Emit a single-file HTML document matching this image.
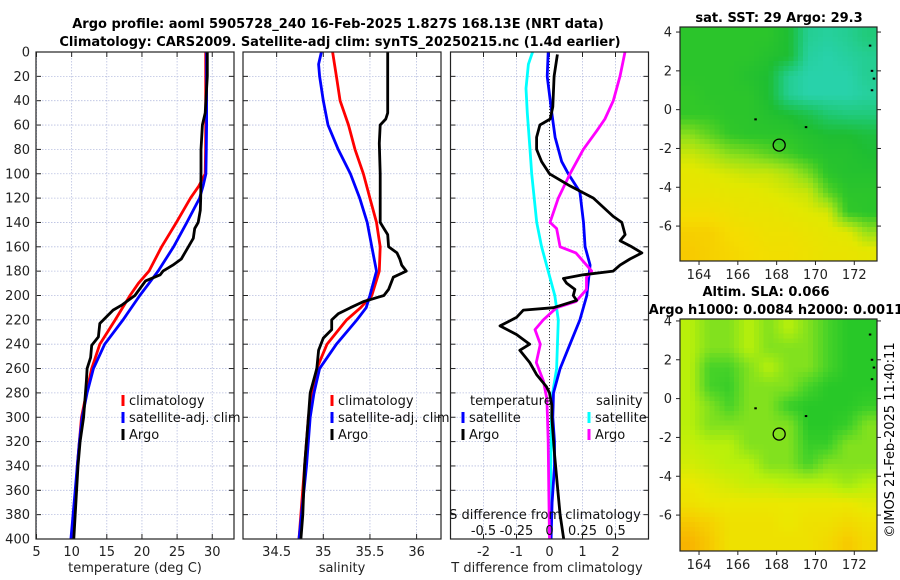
<!DOCTYPE html>
<html><head><meta charset="utf-8">
<style>
html,body{margin:0;padding:0;background:#fff;}
svg{display:block;font-family:"DejaVu Sans","Liberation Sans",sans-serif;}
</style></head>
<body>
<svg id="fig" width="900" height="580" viewBox="0 0 900 580">
<text x="338" y="28" text-anchor="middle" font-size="13" font-weight="bold" fill="#000">Argo profile: aoml 5905728_240 16-Feb-2025 1.827S 168.13E (NRT data)</text>
<text x="340" y="46" text-anchor="middle" font-size="13" font-weight="bold" fill="#000">Climatology: CARS2009. Satellite-adj clim: synTS_20250215.nc (1.4d earlier)</text>
<text x="779" y="22" text-anchor="middle" font-size="13" font-weight="bold">sat. SST: 29 Argo: 29.3</text>
<text x="766" y="296" text-anchor="middle" font-size="13" font-weight="bold">Altim. SLA: 0.066</text>
<text x="776" y="314" text-anchor="middle" font-size="13" font-weight="bold">Argo h1000: 0.0084 h2000: 0.0011</text>
<text transform="translate(894,440) rotate(-90)" text-anchor="middle" font-size="13">©IMOS 21-Feb-2025 11:40:11</text>
<g id="panels"></g>
</svg>
<script>
// ---- Data (depth in m) ----
const depthT = [0,20,50,60,80,100,110,120,140,160,180,190,200,220,240,260,280,300,320,340,360,380,400];
const climT  = [29.07,29.07,29.07,29.07,29.05,29.0,28.1,26.9,24.9,22.8,21.0,19.5,18.3,16.2,14.0,12.85,12.1,11.4,11.1,10.8,10.6,10.3,10.1];
const satT   = [29.2,29.2,29.2,29.2,29.15,29.1,28.7,28.2,26.4,24.5,22.3,21.0,19.7,17.3,14.7,13.1,12.2,11.5,11.1,10.8,10.5,10.2,9.9];
const argoDepthT = [0,20,50,60,80,100,120,130,140,145,153,165,170,175,180,183,188,200,208,212,223,234,241,251,260,270,300,320,340,360,380,400];
const argoT  = [29.3,29.3,29.0,28.6,28.4,28.4,28.35,28.3,28.0,27.5,27.3,26.1,25.6,24.4,23.0,22.6,20.5,19.0,17.1,15.9,14.0,13.8,12.85,12.7,12.2,12.1,11.7,11.2,10.9,10.7,10.5,10.3];

const depthS = [0,10,20,40,60,80,100,120,140,160,180,200,210,220,240,260,280,300,340,400];
const climS  = [35.10,35.12,35.14,35.18,35.27,35.34,35.43,35.50,35.57,35.61,35.60,35.52,35.40,35.25,35.04,34.93,34.88,34.84,34.80,34.74];
const satS   = [34.98,34.95,34.96,35.0,35.05,35.16,35.29,35.39,35.47,35.52,35.57,35.50,35.46,35.36,35.14,34.96,34.90,34.86,34.82,34.74];
const argoDepthS = [0,50,55,60,75,100,140,145,150,160,165,170,175,180,185,195,200,205,210,215,220,228,235,245,260,280,300,340,380,400];
const argoS  = [35.69,35.69,35.67,35.61,35.60,35.61,35.61,35.65,35.69,35.70,35.79,35.82,35.84,35.89,35.75,35.70,35.65,35.43,35.29,35.16,35.09,35.09,35.0,34.95,34.93,34.86,34.84,34.80,34.78,34.76];

const argoDepthTd = [2,20,45,55,60,70,80,90,100,110,120,135,140,150,155,160,165,170,175,180,183,186,190,195,200,204,210,212,218,225,232,240,245,255,265,275,280,290,300,330,360,380,400];
const argoTd = [0.24,0.14,0.1,0.02,-0.29,-0.39,-0.39,-0.24,0,0.62,1.33,1.93,2.19,2.29,2.14,2.49,2.8,2.44,2.14,1.93,1.02,0.42,0.52,0.77,0.72,0.82,0.12,-0.79,-1.0,-1.5,-1.0,-0.6,-0.9,-0.6,-0.39,-0.09,0,0.07,0.07,0.15,0.25,0.32,0.43];
const satDepthTd = [0,20,50,70,90,100,115,140,160,175,200,220,240,260,280,300,320,340,370,400];
const satTd = [-0.04,-0.07,0.07,0.17,0.37,0.57,0.92,1.03,1.08,1.23,1.13,0.92,0.62,0.32,0.12,0.1,0.15,0.15,0.08,0.05];
const satDepthSd = [0,10,30,50,80,100,140,160,180,200,220,260,280,300,340,400];
const satSd = [-0.128,-0.16,-0.178,-0.168,-0.148,-0.135,-0.097,-0.06,-0.01,0.04,0.067,0.054,0.024,0.015,0.01,0.005];
const argoDepthSd = [0,20,40,55,65,80,100,120,140,145,160,165,175,180,185,195,205,210,220,228,240,255,270,285,320,360,400];
const argoSd = [0.572,0.534,0.483,0.42,0.357,0.256,0.155,0.067,0.004,0.054,0.08,0.2,0.28,0.32,0.28,0.28,0.2,0.054,-0.047,-0.11,-0.07,-0.1,-0.047,-0.02,-0.01,-0.005,0.0];

const depthTicks = [0,20,40,60,80,100,120,140,160,180,200,220,240,260,280,300,320,340,360,380,400];
const tempTicks = [5,10,15,20,25,30];
const salTicks = [34.5,35,35.5,36];
const tdTicks = [-2,-1,0,1,2];
const sdTicks = [-0.5,-0.25,0,0.25,0.5];
const sdTickLabels = ["-0.5","-0.25","0","0.25","0.5"];
const lonTicks = [164,166,168,170,172];
const latTicks = [4,2,0,-2,-4,-6];

// map grids (10 cols lon 163..173.2, 12 rows north->south)
const sstGrid = [
[29.1,29.1,29.1,29.1,29.1,29.0,28.6,28.55,28.6,28.7],
[29.1,29.1,29.1,29.1,29.05,29.0,28.55,28.5,28.55,28.6],
[29.1,29.1,29.1,29.05,29.0,28.6,28.5,28.5,28.5,28.6],
[29.15,29.1,29.1,29.1,29.0,28.6,28.5,28.5,28.5,28.55],
[29.15,29.15,29.1,29.1,29.05,29.0,28.9,28.75,28.7,28.7],
[29.45,29.3,29.15,29.1,29.1,29.1,29.05,29.0,29.0,28.95],
[29.7,29.6,29.45,29.4,29.3,29.2,29.1,29.05,29.05,29.0],
[29.85,29.8,29.75,29.7,29.7,29.6,29.4,29.1,29.05,29.05],
[29.9,29.9,29.85,29.85,29.8,29.75,29.7,29.3,29.1,29.1],
[30.0,30.0,29.95,29.9,29.9,29.85,29.8,29.75,29.15,29.1],
[30.15,30.15,30.05,30.0,29.95,29.95,29.9,29.85,29.8,29.5],
[30.2,30.15,30.1,30.05,30.0,30.0,29.95,29.9,29.9,29.85]];
const slaGrid = [
[0.09,0.07,0.07,0.09,0.07,0.09,0.07,0.05,0.04,0.04],
[0.09,0.07,0.07,0.09,0.07,0.07,0.07,0.05,0.04,0.04],
[0.09,0.05,0.05,0.07,0.09,0.07,0.07,0.05,0.04,0.04],
[0.09,0.05,0.045,0.07,0.07,0.07,0.05,0.04,0.04,0.04],
[0.09,0.07,0.05,0.07,0.07,0.045,0.04,0.04,0.04,0.045],
[0.09,0.07,0.07,0.07,0.07,0.07,0.04,0.04,0.045,0.07],
[0.095,0.09,0.09,0.07,0.07,0.07,0.045,0.045,0.07,0.07],
[0.1,0.095,0.09,0.09,0.07,0.07,0.05,0.07,0.07,0.07],
[0.11,0.105,0.1,0.095,0.095,0.09,0.09,0.09,0.08,0.09],
[0.115,0.11,0.11,0.11,0.11,0.11,0.11,0.11,0.11,0.105],
[0.13,0.125,0.115,0.115,0.115,0.11,0.115,0.115,0.12,0.115],
[0.14,0.13,0.115,0.115,0.115,0.115,0.115,0.12,0.13,0.12]];

const NS="http://www.w3.org/2000/svg";
const root=document.getElementById('panels');
function el(tag,attrs,parent){const e=document.createElementNS(NS,tag);for(const k in attrs)e.setAttribute(k,attrs[k]);(parent||root).appendChild(e);return e;}

const TOP=52, BOT=539;
const yD = d => TOP + d*(BOT-TOP)/400;
const xT = t => 36.5 + (t-5)*7.03;
const xS = s => 323.3 + (s-35)*93.3;
const xTd = v => 549.5 + v*33;
const xSd = v => 549.5 + v*132;

function frame(x0,x1,name){
  const g=el('g',{});
  
  
  el('rect',{x:x0,y:TOP,width:x1-x0,height:BOT-TOP,fill:'#fff'},g);
  depthTicks.forEach(d=>{
    const l=el('line',{x1:x0,x2:x1,y1:yD(d),y2:yD(d),stroke:'#b8bfe0','stroke-width':0.8,'stroke-dasharray':'1.5,1.5'},g);
    
    
    el('line',{x1:x0,x2:x0+5,y1:yD(d),y2:yD(d),stroke:'#222'},g);
    el('line',{x1:x1-5,x2:x1,y1:yD(d),y2:yD(d),stroke:'#222'},g);
  });
  return g;
}
function vgrid(g,ticks,fx,labels,name){
  ticks.forEach((t,i)=>{
    const l=el('line',{x1:fx(t),x2:fx(t),y1:TOP,y2:BOT,stroke:'#b8bfe0','stroke-width':0.8,'stroke-dasharray':'1.5,1.5'},g);
    
    
    el('line',{x1:fx(t),x2:fx(t),y1:BOT-5,y2:BOT,stroke:'#222'},g);
    el('line',{x1:fx(t),x2:fx(t),y1:TOP,y2:TOP+5,stroke:'#222'},g);
    const tx=el('text',{x:fx(t),y:556,'text-anchor':'middle','font-size':13,fill:'#222'},g);
    
    
    tx.textContent=labels?labels[i]:String(t);
  });
}
function border(g,x0,x1){el('rect',{x:x0,y:TOP,width:x1-x0,height:BOT-TOP,fill:'none',stroke:'#222','stroke-width':1.2},g);}
function curve(g,ds,vs,fx,color,name){
  const p=el('polyline',{points:ds.map((d,i)=>fx(vs[i]).toFixed(1)+','+yD(d).toFixed(1)).join(' '),fill:'none',stroke:color,'stroke-width':2.8,'stroke-linejoin':'round'},g);
  
  
}
function legItem(g,x,y,color,label,name){
  const it=el('g',{},g);
  
  
  el('rect',{x:x-1.5,y:y-10,width:3,height:11,fill:color},it);
  const t=el('text',{x:x+6,y:y,'font-size':13,fill:'#111'},it);
  t.textContent=label;
}

depthTicks.forEach(d=>{
  const t=el('text',{x:30,y:yD(d)+4.5,'text-anchor':'end','font-size':13,fill:'#222'});
  
  
  t.textContent=String(d);
});

// Panel 1
let g1=frame(36,234,'temperature-panel');
vgrid(g1,tempTicks,xT,null,'temperature-tick-label');
curve(g1,depthT,climT,xT,'#ff0000','temperature-climatology-line');
curve(g1,depthT,satT,xT,'#0000ff','temperature-satellite-line');
curve(g1,argoDepthT,argoT,xT,'#000','temperature-argo-line');
border(g1,36,234);
legItem(g1,123,405,'#f00','climatology','legend-climatology');
legItem(g1,123,422,'#00f','satellite-adj. clim','legend-satellite-adj');
legItem(g1,123,439,'#000','Argo','legend-argo');
let xl1=el('text',{x:135,y:572,'text-anchor':'middle','font-size':13,fill:'#222'},g1);
xl1.textContent='temperature (deg C)';

// Panel 2
let g2=frame(243,441,'salinity-panel');
vgrid(g2,salTicks,xS,null,'salinity-tick-label');
curve(g2,depthS,climS,xS,'#ff0000','salinity-climatology-line');
curve(g2,depthS,satS,xS,'#0000ff','salinity-satellite-line');
curve(g2,argoDepthS,argoS,xS,'#000','salinity-argo-line');
border(g2,243,441);
legItem(g2,332,405,'#f00','climatology','legend-climatology-s');
legItem(g2,332,422,'#00f','satellite-adj. clim','legend-satellite-adj-s');
legItem(g2,332,439,'#000','Argo','legend-argo-s');
let xl2=el('text',{x:342,y:572,'text-anchor':'middle','font-size':13,fill:'#222'},g2);
xl2.textContent='salinity';

// Panel 3
let g3=frame(450.5,648.5,'difference-panel');
vgrid(g3,tdTicks,xTd,null,'tdiff-tick-label');
el('line',{x1:xTd(0),x2:xTd(0),y1:TOP,y2:BOT,stroke:'#333','stroke-width':1,'stroke-dasharray':'1,2'},g3);
curve(g3,satDepthSd,satSd,xSd,'#00ffff','salinity-diff-satellite-line');
curve(g3,satDepthTd,satTd,xTd,'#0000ff','temperature-diff-satellite-line');
curve(g3,argoDepthSd,argoSd,xSd,'#ff00ff','salinity-diff-argo-line');
curve(g3,argoDepthTd,argoTd,xTd,'#000','temperature-diff-argo-line');
border(g3,450.5,648.5);
let lt=el('text',{x:470,y:405,'font-size':13,fill:'#111'},g3); lt.textContent='temperature';
let ls=el('text',{x:596,y:405,'font-size':13,fill:'#111'},g3); ls.textContent='salinity';
legItem(g3,463,422,'#00f','satellite','legend-t-satellite');
legItem(g3,463,439,'#000','Argo','legend-t-argo');
legItem(g3,589,422,'#0ff','satellite','legend-s-satellite');
legItem(g3,589,439,'#f0f','Argo','legend-s-argo');
let st=el('text',{x:545,y:519,'text-anchor':'middle','font-size':13,fill:'#111'},g3); st.textContent='S difference from climatology';
sdTicks.forEach((v,i)=>{
  const t=el('text',{x:xSd(v),y:535,'text-anchor':'middle','font-size':13,fill:'#111'},g3);
  
  
  t.textContent=sdTickLabels[i];
});
let tt=el('text',{x:547,y:572,'text-anchor':'middle','font-size':13,fill:'#222'},g3); tt.textContent='T difference from climatology';

// Maps
const MX0=680, MX1=877, LON0=163.02, LON1=173.17;
const lonX = lon => MX0 + (lon-LON0)*(MX1-MX0)/(LON1-LON0);
function lerp(a,b,t){return a+(b-a)*t;}
function rgb(a){return 'rgb('+a.map(Math.round).join(',')+')';}
function cmap(stops,v){
  if(v<=stops[0][0])return rgb(stops[0][1]);
  for(let i=1;i<stops.length;i++){ if(v<=stops[i][0]){const t=(v-stops[i-1][0])/(stops[i][0]-stops[i-1][0]);const a=stops[i-1][1],b=stops[i][1];return rgb([0,1,2].map(k=>lerp(a[k],b[k],t)));}}
  return rgb(stops[stops.length-1][1]);
}
function sample(grid,fr,fc){
  const rows=grid.length, cols=grid[0].length;
  const r=Math.min(Math.max(fr-0.5,0),rows-1), c=Math.min(Math.max(fc-0.5,0),cols-1);
  const r0=Math.floor(r), c0=Math.floor(c), r1=Math.min(r0+1,rows-1), c1=Math.min(c0+1,cols-1);
  const tr=r-r0, tc=c-c0;
  return lerp(lerp(grid[r0][c0],grid[r0][c1],tc),lerp(grid[r1][c0],grid[r1][c1],tc),tr);
}
const sstStops=[[28.5,[40,210,170]],[28.75,[30,200,110]],[29.0,[30,190,50]],[29.15,[50,200,40]],[29.5,[150,225,25]],[29.8,[225,232,0]],[30.05,[245,220,0]],[30.3,[248,190,0]]];
const slaStops=[[0.04,[40,200,40]],[0.05,[70,210,40]],[0.07,[130,225,30]],[0.09,[185,240,10]],[0.11,[235,232,0]],[0.125,[245,210,0]],[0.14,[248,180,0]]];
function drawMap(grid,stops,y0,y1,latTop,latBot,name){
  const g=el('g',{});
  
  
  const latY = lat => y0 + (latTop-lat)*(y1-y0)/(latTop-latBot);
  const rows=grid.length, cols=grid[0].length;
  const SUB=4;
  const NR=rows*SUB, NC=cols*SUB;
  const cw=(MX1-MX0)/NC, ch=(y1-y0)/NR;
  const cells=el('g',{'shape-rendering':'crispEdges'},g);
  for(let r=0;r<NR;r++)for(let c=0;c<NC;c++){
    const v=sample(grid,(r+0.5)/SUB,(c+0.5)/SUB);
    const rc=el('rect',{x:(MX0+c*cw).toFixed(2),y:(y0+r*ch).toFixed(2),width:(cw+0.6).toFixed(2),height:(ch+0.6).toFixed(2),fill:cmap(stops,v)},cells);
    
    
  }
  el('rect',{x:MX0,y:y0,width:MX1-MX0,height:y1-y0,fill:'none',stroke:'#222','stroke-width':1.2},g);
  lonTicks.forEach(l=>{
    el('line',{x1:lonX(l),x2:lonX(l),y1:y1,y2:y1+4,stroke:'#222'},g);
    const t=el('text',{x:lonX(l),y:y1+18,'text-anchor':'middle','font-size':13,fill:'#222'},g);
    
    
    t.textContent=String(l);
  });
  latTicks.forEach(l=>{
    el('line',{x1:MX0-4,x2:MX0,y1:latY(l),y2:latY(l),stroke:'#222'},g);
    el('line',{x1:MX1,x2:MX1+4,y1:latY(l),y2:latY(l),stroke:'#222'},g);
    const t=el('text',{x:MX0-8,y:latY(l)+4.5,'text-anchor':'end','font-size':13,fill:'#222'},g);
    
    
    t.textContent=String(l);
  });
  const m=el('circle',{cx:lonX(168.13),cy:latY(-1.827),r:6,fill:'none',stroke:'#000','stroke-width':1.3},g);
  
  
  [[166.9,-0.5],[169.5,-0.9],[172.8,3.3],[172.9,2.0],[173.0,1.6],[172.9,1.0]].forEach(p=>{
    el('rect',{x:lonX(p[0])-1,y:latY(p[1])-1,width:2.5,height:2,fill:'#000'},g);
  });
}
drawMap(sstGrid,sstStops,27,261,4.26,-7.8,'sst-map');
drawMap(slaGrid,slaStops,319,551,4.1,-7.85,'sla-map');
</script>
</body></html>
